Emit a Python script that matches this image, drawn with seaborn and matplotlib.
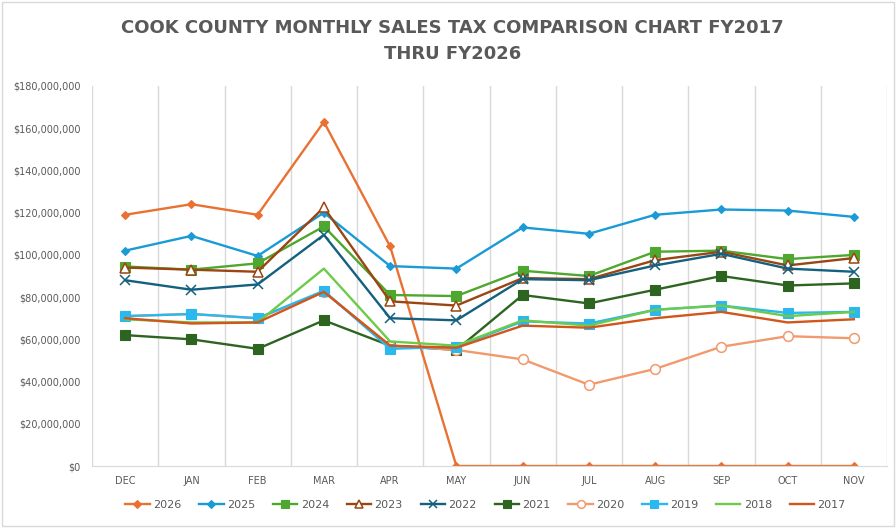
import matplotlib.pyplot as plt
import matplotlib.patches as patches
import matplotlib.ticker as ticker
import pandas as pd
import seaborn as sns

months = ["DEC", "JAN", "FEB", "MAR", "APR", "MAY", "JUN", "JUL", "AUG", "SEP", "OCT", "NOV"]
years = ["2026", "2025", "2024", "2023", "2022", "2021", "2020", "2019", "2018", "2017"]

# values in millions of dollars
fy2026 = [119, 124, 119, 163, 104, 0, 0, 0, 0, 0, 0, 0]
fy2025 = [102, 109, 99.5, 120, 94.7, 93.5, 113, 110, 119, 121.5, 121, 118]
fy2024 = [94.5, 93, 96, 113.5, 81, 80.5, 92.5, 90, 101.5, 102, 98, 100]
fy2023 = [94, 93, 92, 122.5, 78, 76, 89, 88.5, 97.5, 101.5, 95, 98.5]
fy2022 = [88, 83.5, 86, 109.5, 70, 69, 88.5, 88, 95, 100.5, 93.5, 92]
fy2021 = [62, 60, 55.5, 69, 57, 55, 81, 77, 83.5, 90, 85.5, 86.5]
fy2020 = [71, 72, 70, 82.5, 57, 55, 50.5, 38.5, 46, 56.5, 61.5, 60.5]
fy2019 = [71, 72, 70, 83, 55.5, 56.5, 68.5, 67.5, 74, 76, 72.5, 73]
fy2018 = [69.5, 68, 68, 93.5, 59, 57, 69, 66.5, 74, 76, 71, 73]
fy2017 = [70, 67.5, 68, 82.5, 57, 56, 66.5, 65.5, 70, 73, 68, 69.5]

series = [fy2026, fy2025, fy2024, fy2023, fy2022, fy2021, fy2020, fy2019, fy2018, fy2017]

colors = ["#E97132", "#1A9BD6", "#4EA72E", "#9A4512", "#13607F",
          "#2C6420", "#F19A6E", "#2BB8EE", "#6CCB4A", "#D2561B"]
markers = ["D", "D", "s", "^", "x", "s", "o", "s", None, None]
open_marker = [False, False, False, True, False, False, True, False, False, False]
msizes = [4.5, 4.5, 6.5, 6.5, 6.5, 6.5, 7, 6.5, 0, 0]

gray = "#595959"

fig = plt.figure(figsize=(8.96, 5.28), dpi=100)
ax = fig.add_axes([92 / 896, 1 - 466 / 528, (887 - 92) / 896, (466 - 86) / 528])

fig.patches.append(patches.Rectangle((0.002, 0.003), 0.996, 0.994, transform=fig.transFigure,
                                     fill=False, edgecolor="#D9D9D9", linewidth=1))

for year, vals, c, m, op, ms in zip(years, series, colors, markers, open_marker, msizes):
    df = pd.DataFrame({"month": months, "sales": [v * 1e6 for v in vals]})
    kw = dict(color=c, linewidth=1.7, label=year)
    if m is not None:
        kw.update(marker=m, markersize=ms, markeredgecolor=c,
                  markerfacecolor="white" if op else c,
                  markeredgewidth=1.1 if (op or m == "x") else 0.8)
    sns.lineplot(data=df, x="month", y="sales", ax=ax, sort=False, **kw)

ax.set_xlim(-0.5, 11.5)
ax.set_ylim(0, 180e6)
ax.yaxis.set_major_locator(ticker.MultipleLocator(20e6))
ax.yaxis.set_major_formatter(ticker.FuncFormatter(lambda v, p: f"${v:,.0f}"))
ax.set_xlabel("")
ax.set_ylabel("")

for xb in [i - 0.5 for i in range(13)]:
    ax.axvline(xb, color="#D9D9D9", linewidth=1, zorder=0)
for s in ["top", "right", "left"]:
    ax.spines[s].set_visible(False)
ax.spines["bottom"].set_color("#D9D9D9")
ax.tick_params(axis="both", length=0, colors=gray, labelsize=7)
ax.tick_params(axis="x", pad=7)
ax.tick_params(axis="y", pad=8)

fig.text(0.505, 0.922, "COOK COUNTY MONTHLY SALES TAX COMPARISON CHART FY2017\nTHRU FY2026",
         ha="center", va="center", fontsize=13, fontweight="bold", color=gray, linespacing=1.55)

handles, labels = ax.get_legend_handles_labels()
ax.legend(handles, labels, loc="center", bbox_to_anchor=(0.5 - 0.005, -0.103), ncol=10,
          frameon=False, fontsize=8, labelcolor=gray, handlelength=2.2, handletextpad=0.3,
          columnspacing=1.6, markerscale=0.8)

fig.savefig("out.png", dpi=100)
